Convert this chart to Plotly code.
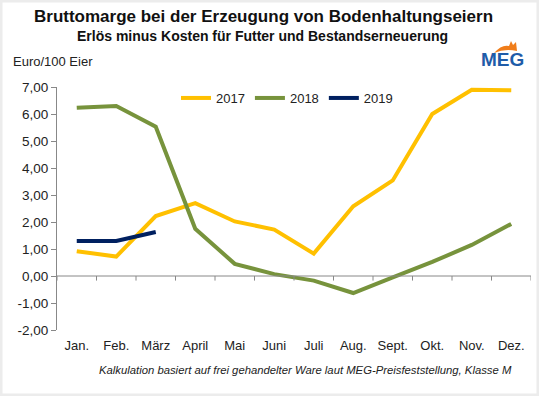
import plotly.graph_objects as go

months = ["Jan.", "Feb.", "März", "April", "Mai", "Juni", "Juli", "Aug.", "Sept.", "Okt.", "Nov.", "Dez."]
v2017 = [0.92, 0.72, 2.22, 2.70, 2.02, 1.72, 0.83, 2.58, 3.54, 6.00, 6.90, 6.88]
v2018 = [6.23, 6.30, 5.53, 1.75, 0.45, 0.07, -0.17, -0.63, -0.05, 0.52, 1.15, 1.93]
v2019 = [1.30, 1.30, 1.63]
yticks = [-2, -1, 0, 1, 2, 3, 4, 5, 6, 7]
yticklabels = ["-2,00", "-1,00", "0,00", "1,00", "2,00", "3,00", "4,00", "5,00", "6,00", "7,00"]

W, H = 539, 396
L, R, T, B = 57, 8, 87, 66
pw, ph = W - L - R, H - T - B

def px(x):
    return (x - L) / pw

def py(y):
    return (H - B - y) / ph

fig = go.Figure()
fig.add_trace(go.Scatter(x=months, y=v2017, name="2017", mode="lines",
                         line=dict(color="#FFC000", width=4)))
fig.add_trace(go.Scatter(x=months, y=v2018, name="2018", mode="lines",
                         line=dict(color="#77933C", width=4)))
fig.add_trace(go.Scatter(x=months[:len(v2019)], y=v2019, name="2019", mode="lines",
                         line=dict(color="#002060", width=4)))

font = "Liberation Sans, Arial, sans-serif"
fig.update_layout(
    width=W, height=H,
    margin=dict(l=L, r=R, t=T, b=B),
    paper_bgcolor="white", plot_bgcolor="white",
    font=dict(family=font, size=13, color="#222"),
    showlegend=True,
    legend=dict(orientation="h", x=px(176), y=py(98), xanchor="left", yanchor="middle",
                font=dict(size=13, color="#222"), bgcolor="rgba(0,0,0,0)",
                itemwidth=30, tracegroupgap=0),
    xaxis=dict(type="category", range=[-0.5, 11.5], showgrid=False, zeroline=False,
               showline=False, ticks="", ticklabelstandoff=6,
               tickfont=dict(size=13, color="#222")),
    yaxis=dict(range=[-2, 7], tickvals=yticks, ticktext=yticklabels, showgrid=False,
               zeroline=False, showline=True, linecolor="#888", linewidth=1,
               ticks="outside", ticklen=5, tickcolor="#888",
               tickfont=dict(size=13.5, color="#222")),
)

# zero line with category tick marks
shapes = [dict(type="line", xref="x", yref="y", x0=-0.5, x1=11.5, y0=0, y1=0,
               line=dict(color="#888", width=1))]
for i in range(13):
    shapes.append(dict(type="line", xref="x", yref="y", x0=i - 0.5, x1=i - 0.5,
                       y0=0, y1=-0.17, line=dict(color="#888", width=1)))
# light frame
shapes.append(dict(type="rect", xref="paper", yref="paper", x0=px(1), x1=px(W - 1),
                   y0=py(H - 1), y1=py(1), line=dict(color="#ececec", width=3)))
# logo flame
shapes.append(dict(type="path", xref="paper", yref="paper",
                   path=f"M {px(494)} {py(53)} Q {px(502)} {py(44)} {px(509)} {py(46)} "
                        f"L {px(511)} {py(41)} L {px(513)} {py(45)} L {px(516)} {py(42)} "
                        f"L {px(517)} {py(51)} Q {px(505)} {py(48)} {px(494)} {py(53)} Z",
                   fillcolor="#F07D1A", line=dict(width=0)))
fig.update_layout(shapes=shapes)

ann = [
    dict(text="<b>Bruttomarge bei der Erzeugung von Bodenhaltungseiern</b>", x=px(263), y=py(16),
         font=dict(size=17, color="#111"), xanchor="center", yanchor="middle"),
    dict(text="<b>Erlös minus Kosten für Futter und Bestandserneuerung</b>", x=px(262), y=py(36),
         font=dict(size=14, color="#111"), xanchor="center", yanchor="middle"),
    dict(text="Euro/100 Eier", x=px(11), y=py(62), font=dict(size=13, color="#222"),
         xanchor="left", yanchor="middle"),
    dict(text="<i>Kalkulation basiert auf frei gehandelter Ware laut MEG-Preisfeststellung, Klasse M</i>",
         x=px(514), y=py(370), font=dict(size=11.3, color="#222"), xanchor="right", yanchor="middle"),
    dict(text="<b>MEG</b>", x=px(502), y=py(60), font=dict(size=19, color="#1F5CA8"),
         xanchor="center", yanchor="middle"),
]
for a in ann:
    a.update(xref="paper", yref="paper", showarrow=False)
fig.update_layout(annotations=ann)

fig.write_html("out.html", config={"displayModeBar": False},
               post_script="document.body.style.margin='0';")
